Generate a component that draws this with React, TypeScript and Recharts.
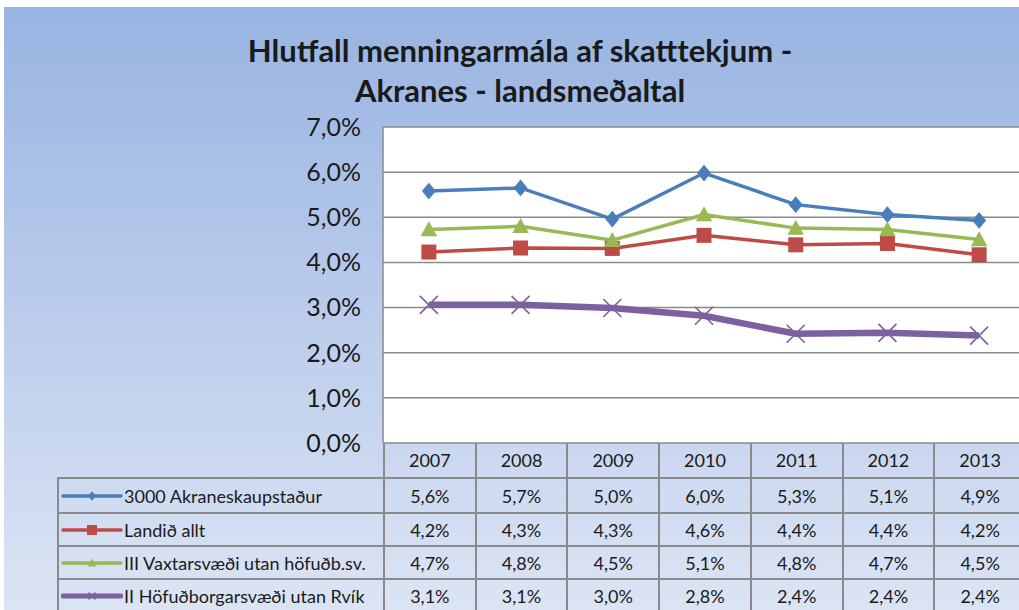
import React from 'react';
import { LineChart, Line, XAxis, YAxis, CartesianGrid } from 'recharts';

const years = ['2007', '2008', '2009', '2010', '2011', '2012', '2013'];
const akranes = [5.58, 5.65, 4.96, 5.98, 5.28, 5.06, 4.93];
const landid = [4.23, 4.32, 4.31, 4.6, 4.39, 4.42, 4.17];
const vaxtar = [4.73, 4.8, 4.49, 5.06, 4.76, 4.73, 4.51];
const hofud = [3.06, 3.06, 2.99, 2.82, 2.42, 2.44, 2.38];
const yTicks = [0, 1, 2, 3, 4, 5, 6, 7];

const seriesInfo = [
  { key: 'akranes', name: '3000 Akraneskaupstaður', color: '#4a7ebb', width: 3.5, marker: 'diamond' },
  { key: 'landid', name: 'Landið allt', color: '#be4b48', width: 3.5, marker: 'square' },
  { key: 'vaxtar', name: 'III Vaxtarsvæði utan höfuðb.sv.', color: '#98b954', width: 3.5, marker: 'triangle' },
  { key: 'hofud', name: 'II Höfuðborgarsvæði utan Rvík', color: '#7d60a0', width: 6.5, marker: 'cross' },
];
const seriesValues: Record<string, number[]> = { akranes, landid, vaxtar, hofud };

const data = years.map((y, i) => ({
  year: y,
  akranes: akranes[i],
  landid: landid[i],
  vaxtar: vaxtar[i],
  hofud: hofud[i],
}));

const FONT = 'Lato, "Open Sans", sans-serif';
const W = 1040;
const H = 470;
const PLOT_L = 379;
const PLOT_R = 1021;
const PLOT_T = 120;
const PLOT_B = 436;
const COL_W = (PLOT_R - PLOT_L) / years.length;
const GRID = '#8a8a8a';

const pct = (v: number) => `${v.toFixed(1).replace('.', ',')}%`;

const markerPath = (type: string, cx: number, cy: number, s: number) => {
  switch (type) {
    case 'diamond':
      return `M${cx},${cy - s * 0.6}L${cx + s * 0.5},${cy}L${cx},${cy + s * 0.6}L${cx - s * 0.5},${cy}Z`;
    case 'square':
      return `M${cx - s / 2},${cy - s / 2}h${s}v${s}h${-s}Z`;
    case 'triangle':
      return `M${cx},${cy - s * 0.55}L${cx + s * 0.55},${cy + s * 0.45}L${cx - s * 0.55},${cy + s * 0.45}Z`;
    default:
      return `M${cx - s / 2},${cy - s / 2}L${cx + s / 2},${cy + s / 2}M${cx + s / 2},${cy - s / 2}L${cx - s / 2},${cy + s / 2}`;
  }
};

const makeDot = (type: string, color: string, size: number) => (props: any) => {
  const { cx, cy, index } = props;
  if (cx == null || cy == null) return <g key={`d-${type}-${index}`} />;
  if (type === 'cross') {
    return <path key={`d-${type}-${index}`} d={markerPath(type, cx, cy, size)} stroke={color} strokeWidth={1.6} fill="none" />;
  }
  return <path key={`d-${type}-${index}`} d={markerPath(type, cx, cy, size)} fill={color} stroke="none" />;
};

const dotSizes: Record<string, number> = { diamond: 14, square: 15, triangle: 15, cross: 18 };

const LegendKey = ({ color, marker, width }: { color: string; marker: string; width: number }) => (
  <svg width={62} height={14} style={{ display: 'block', flex: 'none' }}>
    <line x1={2} y1={7} x2={60} y2={7} stroke={color} strokeWidth={Math.min(width, 5)} strokeLinecap="round" />
    {marker === 'cross' ? (
      <path d={markerPath('cross', 31, 7, 7)} stroke={color} strokeWidth={1.3} fill="none" />
    ) : (
      <path d={markerPath(marker, 31, 7, marker === 'square' ? 10 : 8)} fill={color} />
    )}
  </svg>
);

const App: React.FC = () => {
  const headerTop = PLOT_B;
  const rowTops = [470, 505, 538, 571, 604];
  const labelLeft = 53;

  return (
    <div style={{ position: 'absolute', left: 0, top: 0, width: 1019, height: 610, overflow: 'hidden', background: '#fff' }}>
      <div
        style={{
          position: 'absolute',
          left: 4,
          top: 7,
          width: W,
          height: 610,
          background: 'linear-gradient(180deg, #98b4e2 0%, #b4c7ea 40%, #dce5f4 100%)',
          fontFamily: FONT,
        }}
      >
        <div
          style={{
            position: 'absolute',
            left: 0,
            top: 23,
            width: W - 8,
            textAlign: 'center',
            fontSize: 31,
            fontWeight: 700,
            lineHeight: '40px',
            color: '#1a1a1a',
          }}
        >
          Hlutfall menningarmála af skatttekjum -<br />Akranes - landsmeðaltal
        </div>

        <div style={{ position: 'absolute', left: 0, top: 0 }}>
          <LineChart width={W} height={H} data={data} margin={{ top: PLOT_T, right: W - PLOT_R, left: 0, bottom: H - PLOT_B }}>
            <CartesianGrid vertical={false} stroke={GRID} strokeWidth={1.5} fill="#fff" />
            <XAxis dataKey="year" hide padding={{ left: COL_W / 2, right: COL_W / 2 }} />
            <YAxis
              width={PLOT_L}
              domain={[0, 7]}
              ticks={yTicks}
              interval={0}
              tickFormatter={pct}
              axisLine={{ stroke: GRID, strokeWidth: 1.5 }}
              tickLine={false}
              tickSize={0}
              tickMargin={22}
              tick={{ fill: '#1a1a1a', fontSize: 25, fontFamily: FONT }}
            />
            {seriesInfo.map(s => (
              <Line
                key={s.key}
                dataKey={s.key}
                name={s.name}
                type="linear"
                stroke={s.color}
                strokeWidth={s.width}
                dot={makeDot(s.marker, s.color, dotSizes[s.marker])}
                activeDot={false}
                isAnimationActive={false}
              />
            ))}
          </LineChart>
        </div>

        {/* data table below the plot */}
        <div style={{ position: 'absolute', left: 0, top: 0, width: W, height: 610, fontSize: 18, color: '#1a1a1a' }}>
          {years.map((y, i) => (
            <div
              key={`h-${y}`}
              style={{
                position: 'absolute',
                left: PLOT_L + i * COL_W,
                top: headerTop,
                width: COL_W,
                height: rowTops[0] - headerTop,
                borderLeft: `2px solid ${GRID}`,
                boxSizing: 'border-box',
                display: 'flex',
                alignItems: 'center',
                justifyContent: 'center',
              }}
            >
              {y}
            </div>
          ))}
          {seriesInfo.map((s, r) => (
            <React.Fragment key={`row-${s.key}`}>
              <div
                style={{
                  position: 'absolute',
                  left: labelLeft,
                  top: rowTops[r],
                  width: PLOT_L - labelLeft,
                  height: rowTops[r + 1] - rowTops[r],
                  borderLeft: `2px solid ${GRID}`,
                  borderTop: `2px solid ${GRID}`,
                  boxSizing: 'border-box',
                  display: 'flex',
                  alignItems: 'center',
                  paddingLeft: 2,
                  whiteSpace: 'nowrap',
                }}
              >
                <LegendKey color={s.color} marker={s.marker} width={s.width} />
                <span style={{ marginLeft: 1 }}>{s.name}</span>
              </div>
              {seriesValues[s.key].map((v, i) => (
                <div
                  key={`c-${s.key}-${i}`}
                  style={{
                    position: 'absolute',
                    left: PLOT_L + i * COL_W,
                    top: rowTops[r],
                    width: COL_W,
                    height: rowTops[r + 1] - rowTops[r],
                    borderLeft: `2px solid ${GRID}`,
                    borderTop: `2px solid ${GRID}`,
                    boxSizing: 'border-box',
                    display: 'flex',
                    alignItems: 'center',
                    justifyContent: 'center',
                  }}
                >
                  {pct(v)}
                </div>
              ))}
            </React.Fragment>
          ))}
        </div>
      </div>
    </div>
  );
};

export default App;
